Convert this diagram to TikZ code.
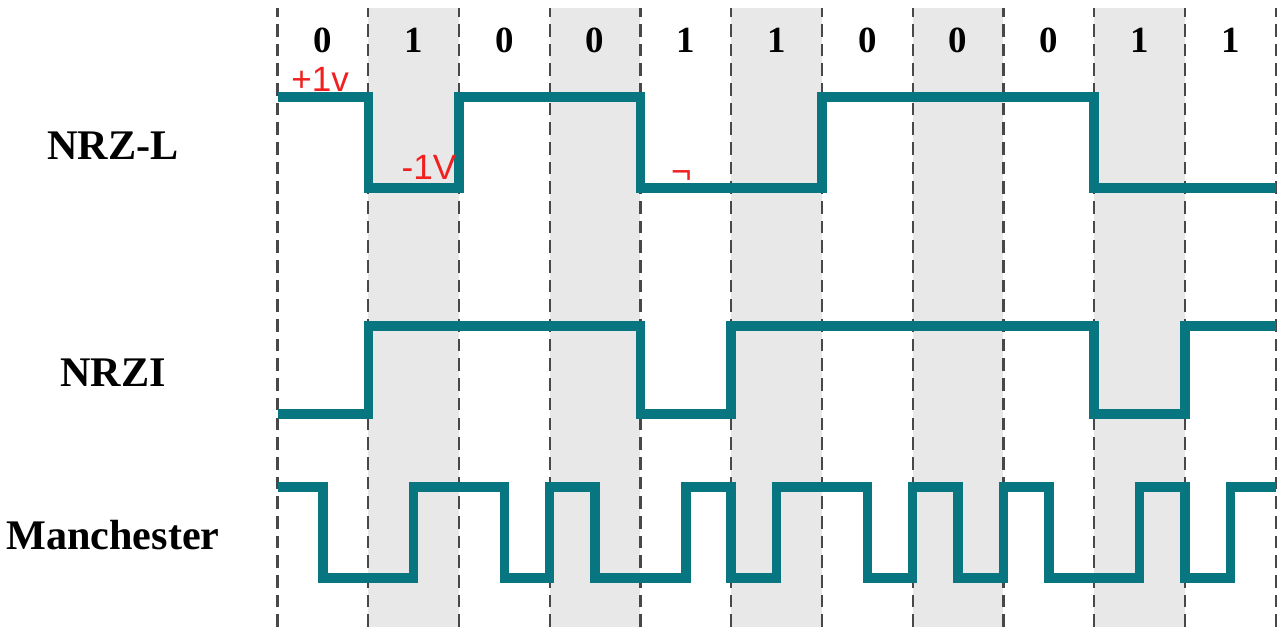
\documentclass[tikz,border=0pt]{standalone}
\usepackage{fontspec}
\setmainfont{Liberation Serif}
\newfontfamily\handfont{Liberation Sans}
\usepackage{tikz}
\usetikzlibrary{positioning,calc}
\definecolor{sigteal}{HTML}{087680}
\definecolor{bandgray}{HTML}{E8E8E8}
\definecolor{gridgray}{HTML}{484848}
\definecolor{inkred}{HTML}{F02020}

\begin{document}
\begin{tikzpicture}[x=0.9075cm, y=1cm,
    signal/.style={sigteal, line width=2.7pt, line join=miter},
    gridline/.style={gridgray, line width=0.65pt, dash pattern=on 3.6pt off 2pt},
    rowlabel/.style={font=\fontsize{12}{14}\selectfont\bfseries},
    bitlabel/.style={font=\fontsize{10.5}{12}\selectfont\bfseries},
    note/.style={inkred, font=\handfont\fontsize{10}{11}\selectfont}]
\useasboundingbox (-3.058,0) rectangle (11.025,6.27);

% Shaded bit cells
\foreach \c in {1,3,5,7,9} {
    \fill[bandgray] (\c,0) rectangle (\c+1,6.19);
}

% Bit boundaries
\foreach \x in {0,...,11} {
    \draw[gridline] (\x,0) -- (\x,6.19);
}

% Bit values
\foreach \b [count=\i from 0] in {0,1,0,0,1,1,0,0,0,1,1} {
    \node[bitlabel] (bit\i) at (\i+0.5,5.87) {\b};
}

% Row names
\node[rowlabel] (nrzl) at (-1.813,4.81) {NRZ-L};
\node[rowlabel] (nrzi) at (-1.813,2.54) {NRZI};
\node[rowlabel] (manch) at (-1.813,0.92) {Manchester};

% NRZ-L
\draw[signal] (0,5.30) -- (1,5.30) -- (1,4.39) -- (2,4.39) -- (2,5.30)
    -- (4,5.30) -- (4,4.39) -- (6,4.39) -- (6,5.30) -- (9,5.30)
    -- (9,4.39) -- (11,4.39);

% NRZI
\draw[signal] (0,2.13) -- (1,2.13) -- (1,3.01) -- (4,3.01) -- (4,2.13)
    -- (5,2.13) -- (5,3.01) -- (9,3.01) -- (9,2.13) -- (10,2.13)
    -- (10,3.01) -- (11,3.01);

% Manchester
\draw[signal] (0,1.40) -- (0.5,1.40) -- (0.5,0.49) -- (1.5,0.49) -- (1.5,1.40)
    -- (2.5,1.40) -- (2.5,0.49) -- (3,0.49) -- (3,1.40) -- (3.5,1.40)
    -- (3.5,0.49) -- (4.5,0.49) -- (4.5,1.40) -- (5,1.40) -- (5,0.49)
    -- (5.5,0.49) -- (5.5,1.40) -- (6.5,1.40) -- (6.5,0.49) -- (7,0.49)
    -- (7,1.40) -- (7.5,1.40) -- (7.5,0.49) -- (8,0.49) -- (8,1.40)
    -- (8.5,1.40) -- (8.5,0.49) -- (9.5,0.49) -- (9.5,1.40) -- (10,1.40)
    -- (10,0.49) -- (10.5,0.49) -- (10.5,1.40) -- (11,1.40);

% Handwritten notes
\node[note] (plusv) at (0.47,5.48) {+1v};
\node[note] (minusv) at (1.67,4.60) {-1V};
\node[note] (tick) at (4.45,4.50) {¬};

\end{tikzpicture}
\end{document}
